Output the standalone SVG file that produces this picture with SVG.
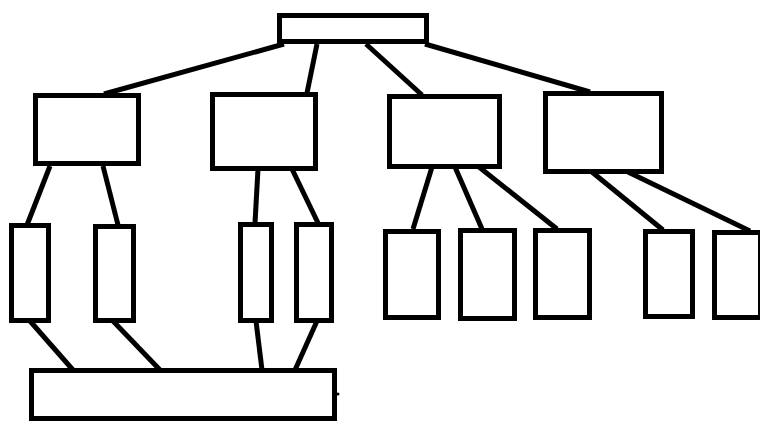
<svg xmlns="http://www.w3.org/2000/svg" width="760" height="423" viewBox="0 0 760 423">
<style>
.n{fill:#fff;stroke:#000;stroke-width:5}
.c line{stroke:#000;stroke-width:5;stroke-linecap:butt}
</style>
<rect width="760" height="423" fill="#fff"/>
<g id="connectors" class="c">
<line x1="284" y1="44" x2="104" y2="94"/>
<line x1="317" y1="44" x2="307" y2="93"/>
<line x1="366" y1="44" x2="422" y2="95"/>
<line x1="425" y1="44" x2="590" y2="92"/>
<line x1="50" y1="166" x2="27" y2="225"/>
<line x1="103" y1="166" x2="118" y2="225"/>
<line x1="258" y1="169" x2="255" y2="223"/>
<line x1="292" y1="169" x2="318" y2="223"/>
<line x1="30" y1="321" x2="73" y2="370"/>
<line x1="113" y1="321" x2="160" y2="370"/>
<line x1="256" y1="321" x2="262" y2="370"/>
<line x1="317" y1="321" x2="295" y2="370"/>
<line x1="432" y1="167" x2="413" y2="229"/>
<line x1="455" y1="167" x2="482" y2="229"/>
<line x1="479" y1="167" x2="557" y2="229"/>
<line x1="592" y1="172" x2="663" y2="230"/>
<line x1="628" y1="172" x2="750" y2="231"/>
</g>
<g id="root"><rect class="n" x="279.5" y="15.5" width="147" height="26"/></g>
<g id="m1"><rect class="n" x="35.5" y="95.5" width="103" height="68"/></g>
<g id="m2"><rect class="n" x="212.5" y="94.5" width="103" height="74"/></g>
<g id="m3"><rect class="n" x="389.5" y="96.5" width="110" height="70"/></g>
<g id="m4"><rect class="n" x="545.5" y="93.5" width="116" height="78"/></g>
<g id="a"><rect class="n" x="11.5" y="225.5" width="37" height="95"/></g>
<g id="b"><rect class="n" x="95.5" y="226.5" width="38" height="94"/></g>
<g id="c"><rect class="n" x="240.5" y="224.5" width="31" height="96"/></g>
<g id="d"><rect class="n" x="296.5" y="224.5" width="35" height="96"/></g>
<g id="e"><rect class="n" x="385.5" y="231.5" width="53" height="86"/></g>
<g id="f"><rect class="n" x="460.5" y="230.5" width="54" height="88"/></g>
<g id="g"><rect class="n" x="535.5" y="230.5" width="54" height="87"/></g>
<g id="h"><rect class="n" x="645.5" y="231.5" width="47" height="85"/></g>
<g id="i"><rect class="n" x="714.5" y="232.5" width="46" height="85"/></g>
<g id="base"><rect class="n" x="31.5" y="370.5" width="303" height="48"/></g>
<circle cx="338" cy="394" r="1.5" fill="#000"/>
</svg>
